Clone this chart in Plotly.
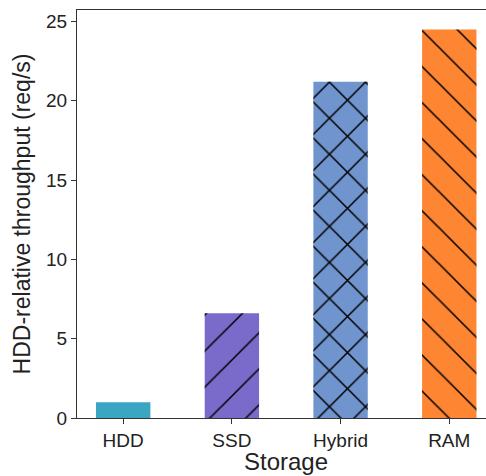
import plotly.graph_objects as go

categories = ["HDD", "SSD", "Hybrid", "RAM"]
throughput = [1.0, 6.6, 21.2, 24.5]
colors = ["#3aa6c2", "#7a6bcb", "#7094cd", "#fe8532"]
hatches = ["", "/", "x", "\\"]
y_ticks = [0, 5, 10, 15, 20, 25]

FONT = "Liberation Sans, Arial, sans-serif"
AX = "#333333"
xs = list(range(len(categories)))
hatch_colors = ["rgba(0,0,0,0)" if h == "" else "#000000" for h in hatches]
hatch_solidity = [0.06 if h != "x" else 0.115 for h in hatches]

fig = go.Figure()
# solid fill
fig.add_trace(go.Bar(
    x=xs, y=throughput, width=0.5,
    marker=dict(color=colors, line=dict(width=0)),
    hoverinfo="skip",
))
# hatch overlay (black lines, transparent background)
fig.add_trace(go.Bar(
    x=xs, y=throughput, width=0.5,
    marker=dict(
        color=hatch_colors,
        line=dict(width=0),
        pattern=dict(shape=hatches, size=25.5, solidity=hatch_solidity,
                     fillmode="replace", fgopacity=1),
    ),
))

fig.update_layout(
    barmode="overlay",
    width=486, height=476,
    margin=dict(l=77, r=0, t=10, b=58),
    plot_bgcolor="white", paper_bgcolor="white",
    showlegend=False,
    font=dict(family=FONT, size=19, color="#222"),
    xaxis=dict(
        range=[-0.425, 3.338],
        tickvals=xs, ticktext=categories,
        ticks="outside", ticklen=5, tickwidth=1, tickcolor=AX,
        showline=True, linecolor=AX, linewidth=1.2, mirror=True,
        showgrid=False, zeroline=False,
        tickfont=dict(size=19),
    ),
    yaxis=dict(
        range=[0, 25.725],
        tickvals=y_ticks,
        ticks="outside", ticklen=5, tickwidth=1, tickcolor=AX,
        showline=True, linecolor=AX, linewidth=1.2,
        showgrid=False, zeroline=False,
        tickfont=dict(size=19),
        title=dict(text="HDD-relative throughput (req/s)", font=dict(size=23), standoff=8),
    ),
    annotations=[dict(
        text="Storage", xref="paper", yref="paper", x=0.511, y=0,
        yshift=-28, xanchor="center", yanchor="top", showarrow=False,
        font=dict(size=24),
    )],
)

fig.write_html("out.html")
